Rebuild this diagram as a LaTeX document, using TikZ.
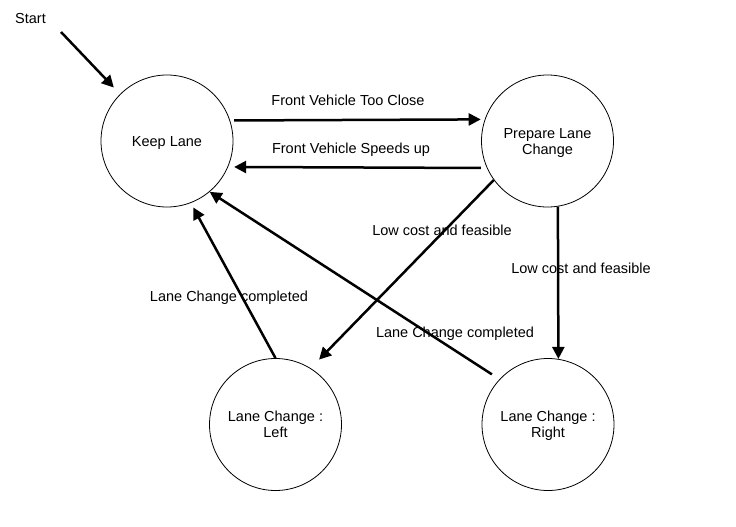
\documentclass[tikz,border=0pt]{standalone}
\usepackage{fontspec}
\setmainfont{Liberation Sans}
\usetikzlibrary{arrows.meta}
\newcommand\stxt[1]{\raisebox{0pt}[\height][\dimexpr\depth-4pt\relax]{\begin{tabular}{@{}c@{}}#1\end{tabular}}}
\begin{document}
\begin{tikzpicture}[x=1pt,y=-1pt,
  state/.style={circle,draw,line width=0.8pt,minimum size=132pt,inner sep=0pt,font=\fontsize{14.5}{16}\selectfont},
  lbl/.style={inner sep=0pt,text height=10.4pt,text depth=0pt,font=\fontsize{14.5}{16}\selectfont},
  trans/.style={line width=2.5pt,-{Triangle[length=12pt,width=12pt]}}]
\useasboundingbox (0,0) rectangle (736,527);
\node[state] (keep) at (167,141) {\stxt{Keep Lane}};
\node[state] (prep) at (547.5,141) {\stxt{Prepare Lane\\Change}};
\node[state] (left) at (275.5,424.5) {\stxt{Lane Change :\\Left}};
\node[state] (right) at (548,424.5) {\stxt{Lane Change :\\Right}};

\node[lbl] (st) at (30.5,18.5) {Start};
\node[lbl] (l1) at (348,100) {Front Vehicle Too Close};
\node[lbl] (l2) at (351,148) {Front Vehicle Speeds up};
\node[lbl] (l3) at (442,230) {Low cost and feasible};
\node[lbl] (l4) at (581,268) {Low cost and feasible};
\node[lbl] (l5) at (229,296) {Lane Change completed};
\node[lbl] (l6) at (455,332) {Lane Change completed};

\coordinate (s) at (61,32);
\draw[trans,shorten >=9pt] (s) -- (keep.135);
\draw[trans,shorten <=4pt,shorten >=4pt] (keep.18.5) -- (prep.161.5);
\draw[trans,shorten <=6pt,shorten >=6pt] (prep.-156.8) -- (keep.-23.2);
\draw[trans,shorten >=12pt] (prep.216) -- (left.58);
\draw[trans] (prep.-81.7) -- (right.81.8);
\draw[trans,shorten >=5pt] (left.90) -- (keep.-69.5);
\draw[trans,shorten <=9pt] (right.137) -- (keep.-50);
\end{tikzpicture}
\end{document}
